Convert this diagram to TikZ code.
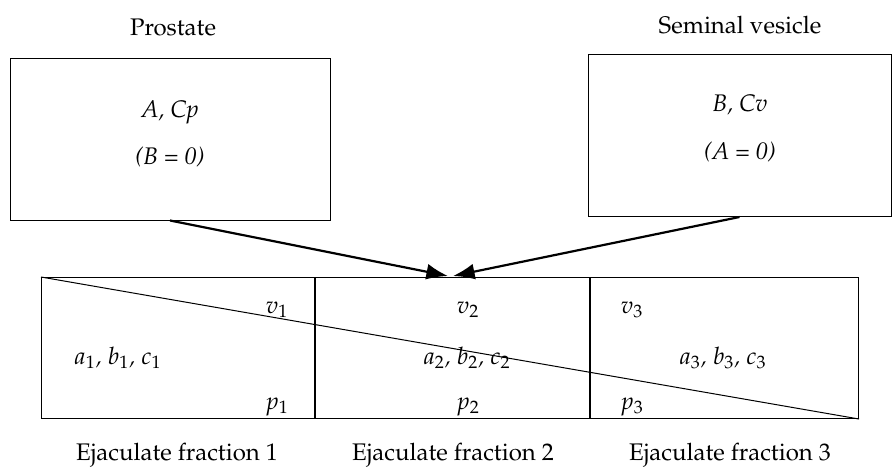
\documentclass[tikz,border=0pt]{standalone}
\usepackage[T1]{fontenc}
\usepackage{mathpazo}
\usepackage{tikz}
\usetikzlibrary{arrows.meta,positioning}
\tikzset{
  glandbox/.style={draw, line width=0.5pt, minimum width=160pt, minimum height=81pt, inner sep=0pt},
  fractioncell/.style={draw, line width=0.5pt, minimum height=70.5pt, inner sep=0pt, anchor=north west},
  flowarrow/.style={-{Latex[length=3.8mm,width=2.8mm]}, line width=1.1pt},
  headlabel/.style={font=\fontsize{12}{14}\selectfont, inner sep=0pt},
  celllabel/.style={font=\fontsize{12}{14}\selectfont\itshape, inner sep=0pt}
}

\begin{document}
\begin{tikzpicture}[x=0.5pt,y=-0.5pt]
\useasboundingbox (0,0) rectangle (892,466);
\node[headlabel] (prostateTitle) at (173,27) {Prostate};
\node[headlabel] (vesicleTitle) at (740,25) {Seminal vesicle};
\node[glandbox] (prostate) at (170,139) {};
\node[glandbox, minimum width=151.5pt] (vesicle) at (739.5,135.5) {};
\node[celllabel] (prostateA) at (170,112) {A, Cp};
\node[celllabel] (prostateB) at (170,157) {(B = 0)};
\node[celllabel] (vesicleB) at (740,105) {B, Cv};
\node[celllabel] (vesicleA) at (740,152) {(A = 0)};
\node[fractioncell, minimum width=136.5pt] (cell1) at (41,277) {};
\node[fractioncell, minimum width=137pt] (cell2) at (cell1.north east) {};
\node[fractioncell, minimum width=134pt] (cell3) at (cell2.north east) {};
\coordinate (meetA) at (448,276);
\coordinate (meetB) at (453,276);
\draw[flowarrow] (prostate.south) -- (meetA);
\draw[flowarrow] (vesicle.south) -- (meetB);
\draw[line width=0.5pt] (cell1.north west) -- (cell3.south east);
\node[celllabel] (v1) at (277,310) {$v_1$};
\node[celllabel] (abc1) at (118,358) {$a_1$, $b_1$, $c_1$};
\node[celllabel] (p1) at (277,407) {$p_1$};
\node[celllabel] (v2) at (468,310) {$v_2$};
\node[celllabel] (abc2) at (467,358) {$a_2$, $b_2$, $c_2$};
\node[celllabel] (p2) at (468,407) {$p_2$};
\node[celllabel] (v3) at (632,310) {$v_3$};
\node[celllabel] (abc3) at (723,358) {$a_3$, $b_3$, $c_3$};
\node[celllabel] (p3) at (632,407) {$p_3$};
\node[headlabel] (fraction1) at (177,455) {Ejaculate fraction 1};
\node[headlabel] (fraction2) at (453,455) {Ejaculate fraction 2};
\node[headlabel] (fraction3) at (730,455) {Ejaculate fraction 3};
\end{tikzpicture}
\end{document}
